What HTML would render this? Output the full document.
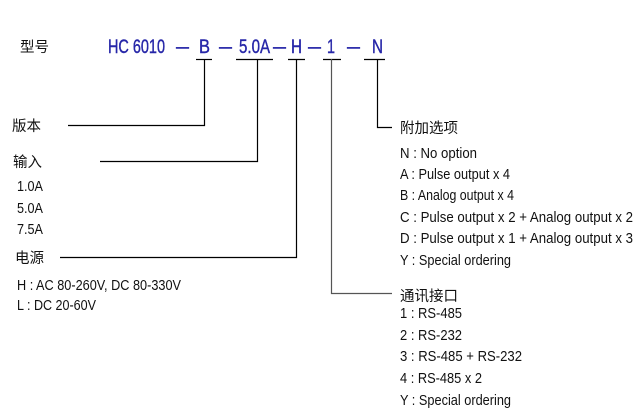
<!DOCTYPE html>
<html><head><meta charset="utf-8"><style>
html,body{margin:0;padding:0;background:#fff;}
svg{display:block}
text{font-family:"Liberation Sans","Noto Sans CJK SC",sans-serif;fill:#111;}
.c{font-size:14.5px;}
.t{font-size:14.5px;}
.b{fill:#2626a8;font-size:19px;stroke:#2626a8;stroke-width:0.4;}
</style></head><body>
<svg width="639" height="416" viewBox="0 0 639 416" xmlns="http://www.w3.org/2000/svg">
<g stroke="#000" stroke-width="1.2" fill="none">
<line x1="196" y1="59.5" x2="212" y2="59.5"/>
<line x1="236" y1="59.5" x2="273" y2="59.5"/>
<line x1="288" y1="59.5" x2="305" y2="59.5"/>
<line x1="323" y1="59.5" x2="341" y2="59.5"/>
<line x1="364" y1="59.5" x2="385" y2="59.5"/>
<polyline points="68,125.5 204.5,125.5 204.5,59"/>
<polyline points="100,161.5 257.5,161.5 257.5,59"/>
<polyline points="60,257.5 296.5,257.5 296.5,59"/>
<polyline points="392,293.5 331.5,293.5 331.5,59" stroke="#555"/>
<polyline points="392,127.5 377.5,127.5 377.5,59"/>
</g>
<text class="c" x="20" y="52">型号</text>
<g>
<text class="b" x="108" y="53" textLength="57" lengthAdjust="spacingAndGlyphs">HC 6010</text>
<text class="b" x="176" y="53" textLength="13" lengthAdjust="spacingAndGlyphs">—</text>
<text class="b" x="199" y="53" textLength="11" lengthAdjust="spacingAndGlyphs">B</text>
<text class="b" x="219" y="53" textLength="13" lengthAdjust="spacingAndGlyphs">—</text>
<text class="b" x="239" y="53" textLength="31" lengthAdjust="spacingAndGlyphs">5.0A</text>
<text class="b" x="273" y="53" textLength="13" lengthAdjust="spacingAndGlyphs">—</text>
<text class="b" x="291" y="53" textLength="11" lengthAdjust="spacingAndGlyphs">H</text>
<text class="b" x="308" y="53" textLength="13" lengthAdjust="spacingAndGlyphs">—</text>
<text class="b" x="327" y="53" textLength="8" lengthAdjust="spacingAndGlyphs">1</text>
<text class="b" x="347" y="53" textLength="13" lengthAdjust="spacingAndGlyphs">—</text>
<text class="b" x="372" y="53" textLength="11" lengthAdjust="spacingAndGlyphs">N</text>
</g>
<text class="c" x="12" y="131">版本</text>
<text class="c" x="13" y="167">输入</text>
<text class="t" x="17" y="191" textLength="26" lengthAdjust="spacingAndGlyphs">1.0A</text>
<text class="t" x="17" y="213" textLength="26" lengthAdjust="spacingAndGlyphs">5.0A</text>
<text class="t" x="17" y="234" textLength="26" lengthAdjust="spacingAndGlyphs">7.5A</text>
<text class="c" x="15" y="263">电源</text>
<text class="t" x="17" y="290" textLength="164" lengthAdjust="spacingAndGlyphs">H : AC 80-260V, DC 80-330V</text>
<text class="t" x="17" y="310" textLength="79" lengthAdjust="spacingAndGlyphs">L : DC 20-60V</text>

<text class="c" x="400" y="133">附加选项</text>
<text class="t" x="400" y="158" textLength="77" lengthAdjust="spacingAndGlyphs">N : No option</text>
<text class="t" x="400" y="179" textLength="110" lengthAdjust="spacingAndGlyphs">A : Pulse output x 4</text>
<text class="t" x="400" y="200" textLength="114" lengthAdjust="spacingAndGlyphs">B : Analog output x 4</text>
<text class="t" x="400" y="222" textLength="233" lengthAdjust="spacingAndGlyphs">C : Pulse output x 2 + Analog output x 2</text>
<text class="t" x="400" y="243" textLength="233" lengthAdjust="spacingAndGlyphs">D : Pulse output x 1 + Analog output x 3</text>
<text class="t" x="400" y="265" textLength="111" lengthAdjust="spacingAndGlyphs">Y : Special ordering</text>

<text class="c" x="400" y="301">通讯接口</text>
<text class="t" x="400" y="318" textLength="62" lengthAdjust="spacingAndGlyphs">1 : RS-485</text>
<text class="t" x="400" y="340" textLength="62" lengthAdjust="spacingAndGlyphs">2 : RS-232</text>
<text class="t" x="400" y="361" textLength="122" lengthAdjust="spacingAndGlyphs">3 : RS-485 + RS-232</text>
<text class="t" x="400" y="383" textLength="82" lengthAdjust="spacingAndGlyphs">4 : RS-485 x 2</text>
<text class="t" x="400" y="405" textLength="111" lengthAdjust="spacingAndGlyphs">Y : Special ordering</text>
</svg>
</body></html>
